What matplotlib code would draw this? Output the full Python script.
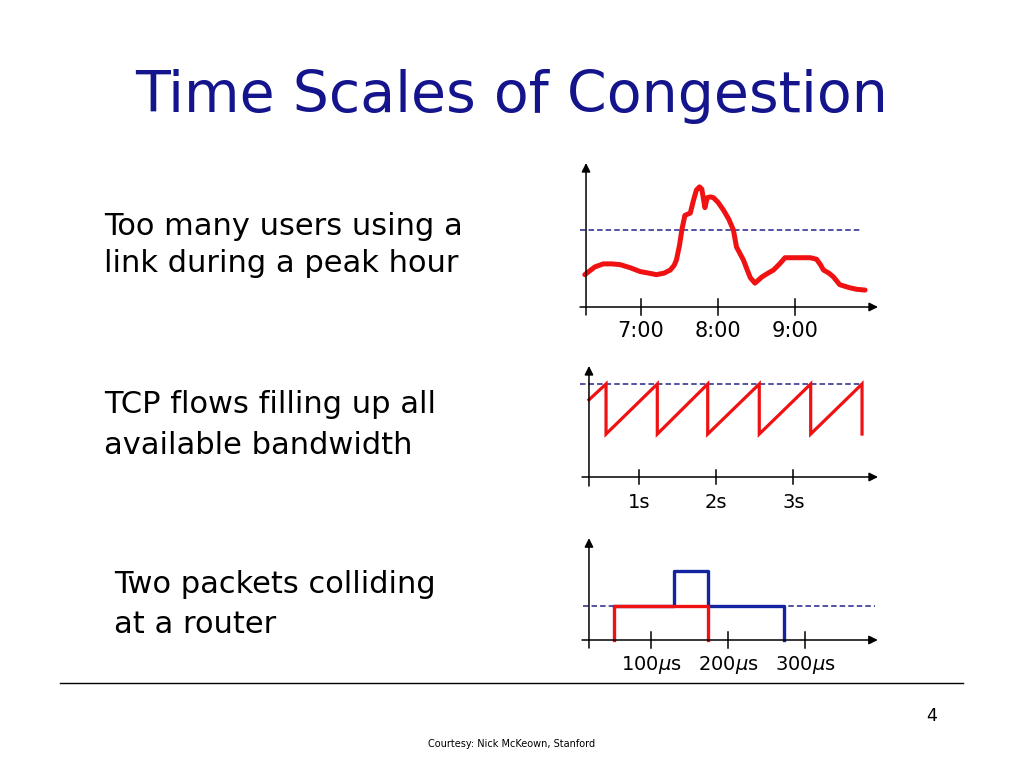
import matplotlib
matplotlib.use("Agg")
import matplotlib.pyplot as plt

W, H = 1024, 768
RED = "#f01212"
BLUE = "#1424a0"
NAVY = "#14148c"
DASH = "#24248c"

# ---------------- data ----------------
title = "Time Scales of Congestion"
captions = [
    ["Too many users using a", "link during a peak hour"],
    ["TCP flows filling up all", "available bandwidth"],
    ["Two packets colliding", "at a router"],
]

# Panel 1: traffic load over the day (load relative to link capacity)
p1_hours = [6.27, 6.40, 6.51, 6.62, 6.73, 6.86, 6.99, 7.10, 7.20, 7.30, 7.38, 7.43,
            7.46, 7.50, 7.53, 7.57, 7.64, 7.68, 7.72, 7.76, 7.79, 7.83, 7.86, 7.90,
            7.94, 8.00, 8.07, 8.14, 8.20, 8.24, 8.33, 8.38, 8.42, 8.48, 8.57, 8.65,
            8.72, 8.80, 8.87, 9.00, 9.11, 9.20, 9.28, 9.33, 9.37, 9.44, 9.50, 9.58,
            9.71, 9.80, 9.91]
p1_load = [0.42, 0.52, 0.56, 0.56, 0.55, 0.51, 0.46, 0.44, 0.42, 0.44, 0.48, 0.54,
           0.61, 0.80, 1.00, 1.19, 1.22, 1.38, 1.52, 1.56, 1.53, 1.29, 1.42, 1.43,
           1.42, 1.36, 1.26, 1.14, 1.00, 0.78, 0.61, 0.48, 0.38, 0.31, 0.39, 0.44,
           0.48, 0.56, 0.64, 0.64, 0.64, 0.64, 0.62, 0.55, 0.48, 0.44, 0.39, 0.29,
           0.25, 0.23, 0.22]
p1_capacity = 1.0
p1_ticks = [7, 8, 9]
p1_ticklabels = ["7:00", "8:00", "9:00"]

# Panel 2: TCP sawtooth (seconds, rate relative to capacity)
p2_start = (0.352, 0.83)
p2_drop_times = [0.573, 1.237, 1.890, 2.558, 3.224, 3.889]
p2_peak = 1.0
p2_low = 0.462
p2_capacity = 1.0
p2_ticks = [1, 2, 3]
p2_ticklabels = ["1s", "2s", "3s"]

# Panel 3: two packets colliding (microseconds, arrival rate)
p3_red_t = [52, 52, 174, 174]
p3_red_v = [0, 1, 1, 0]
p3_blue_t = [52, 130, 130, 174, 174, 273, 273]
p3_blue_v = [1, 1, 2, 2, 1, 1, 0]
p3_capacity = 1.0
p3_ticks = [100, 200, 300]
p3_ticklabels = [r"100$\mu$s", r"200$\mu$s", r"300$\mu$s"]

# ---------------- layout helpers ----------------
fig = plt.figure(figsize=(W / 100, H / 100), dpi=100)
fig.patch.set_facecolor("white")


def fx(px):
    return px / W


def fy(py):
    return 1 - py / H


def panel(box, a, b, c, d):
    """box=(left, top, right, bottom) in pixels; px = a + b*x ; py = c - d*y"""
    l, t, r, bt = box
    ax = fig.add_axes([fx(l), fy(bt), (r - l) / W, (bt - t) / H])
    ax.set_xlim((l - a) / b, (r - a) / b)
    ax.set_ylim((c - bt) / d, (c - t) / d)
    ax.axis("off")
    return ax


def axes_arrows(ax, x0, y_lo, y_hi, x_lo, x_hi, ticks, tick_half, labels, label_y, fs):
    ap = dict(arrowstyle="-|>", lw=1.1, color="black", mutation_scale=13,
              shrinkA=0, shrinkB=0)
    ax.annotate("", xy=(x0, y_hi), xytext=(x0, y_lo), arrowprops=ap,
                annotation_clip=False)
    ax.annotate("", xy=(x_hi, 0), xytext=(x_lo, 0), arrowprops=ap,
                annotation_clip=False)
    for tk, lab in zip(ticks, labels):
        ax.plot([tk, tk], [-tick_half, tick_half], color="black", lw=1.1,
                clip_on=False)
        ax.text(tk, label_y, lab, ha="center", va="baseline", fontsize=fs,
                color="black", clip_on=False)


# ---------------- panel 1 ----------------
ax1 = panel((560, 150, 900, 350), 102, 77, 307, 77)
ax1.plot([6.208, 9.870], [p1_capacity, p1_capacity], color=DASH, lw=1.1,
         dashes=(3.6, 2.0))
ax1.plot(p1_hours, p1_load, color=RED, lw=3.6, solid_joinstyle="round",
         solid_capstyle="round", clip_on=False)
axes_arrows(ax1, 6.286, -0.104, 1.870, 6.208, 10.078, p1_ticks, 0.104,
            p1_ticklabels, (307 - 337) / 77, 15)

# ---------------- panel 2 ----------------
ax2 = panel((560, 355, 900, 520), 561.8, 77.2, 477, 93)
ax2.plot([0.236, 3.889], [p2_capacity, p2_capacity], color=DASH, lw=1.1,
         dashes=(3.6, 2.0))
saw_t = [p2_start[0]]
saw_v = [p2_start[1]]
for td in p2_drop_times:
    saw_t += [td, td]
    saw_v += [p2_peak, p2_low]
ax2.plot(saw_t, saw_v, color=RED, lw=2.3, solid_joinstyle="miter", clip_on=False)
axes_arrows(ax2, 0.352, -0.097, 1.194, 0.262, 4.096, p2_ticks, 0.08,
            p2_ticklabels, (477 - 508) / 93, 14)

# ---------------- panel 3 ----------------
ax3 = panel((560, 525, 900, 680), 573.85, 0.7715, 640, 34.3)
ax3.plot([11.9, 390], [p3_capacity, p3_capacity], color=DASH, lw=1.1,
         dashes=(3.6, 2.0))
ax3.plot(p3_blue_t, p3_blue_v, color=BLUE, lw=2.4, solid_joinstyle="round",
         clip_on=False)
ax3.plot(p3_red_t, p3_red_v, color=RED, lw=2.4, solid_joinstyle="round",
         clip_on=False)
axes_arrows(ax3, 19.6, -0.233, 2.97, 10.6, 394, p3_ticks, 0.242,
            p3_ticklabels, (640 - 670) / 34.3, 14)

# ---------------- slide text ----------------
fig.text(fx(512), fy(112), title, ha="center", va="baseline", fontsize=41,
         color=NAVY)

cap_pos = [(104, [235, 272]), (104, [413, 454]), (114, [593, 633])]
for (x, ys), lines in zip(cap_pos, captions):
    for y, line in zip(ys, lines):
        fig.text(fx(x), fy(y), line, ha="left", va="baseline", fontsize=22,
                 color="black")

# footer rule, page number, credit
fig.add_artist(plt.Line2D([fx(60), fx(963)], [fy(683), fy(683)], color="black",
                          lw=1.0))
fig.text(fx(932), fy(721), "4", ha="center", va="baseline", fontsize=12.5,
         color="black")
fig.text(fx(512), fy(747), "Courtesy: Nick McKeown, Stanford", ha="center",
         va="baseline", fontsize=7, color="black")

fig.savefig("out.png", dpi=100, facecolor="white")
